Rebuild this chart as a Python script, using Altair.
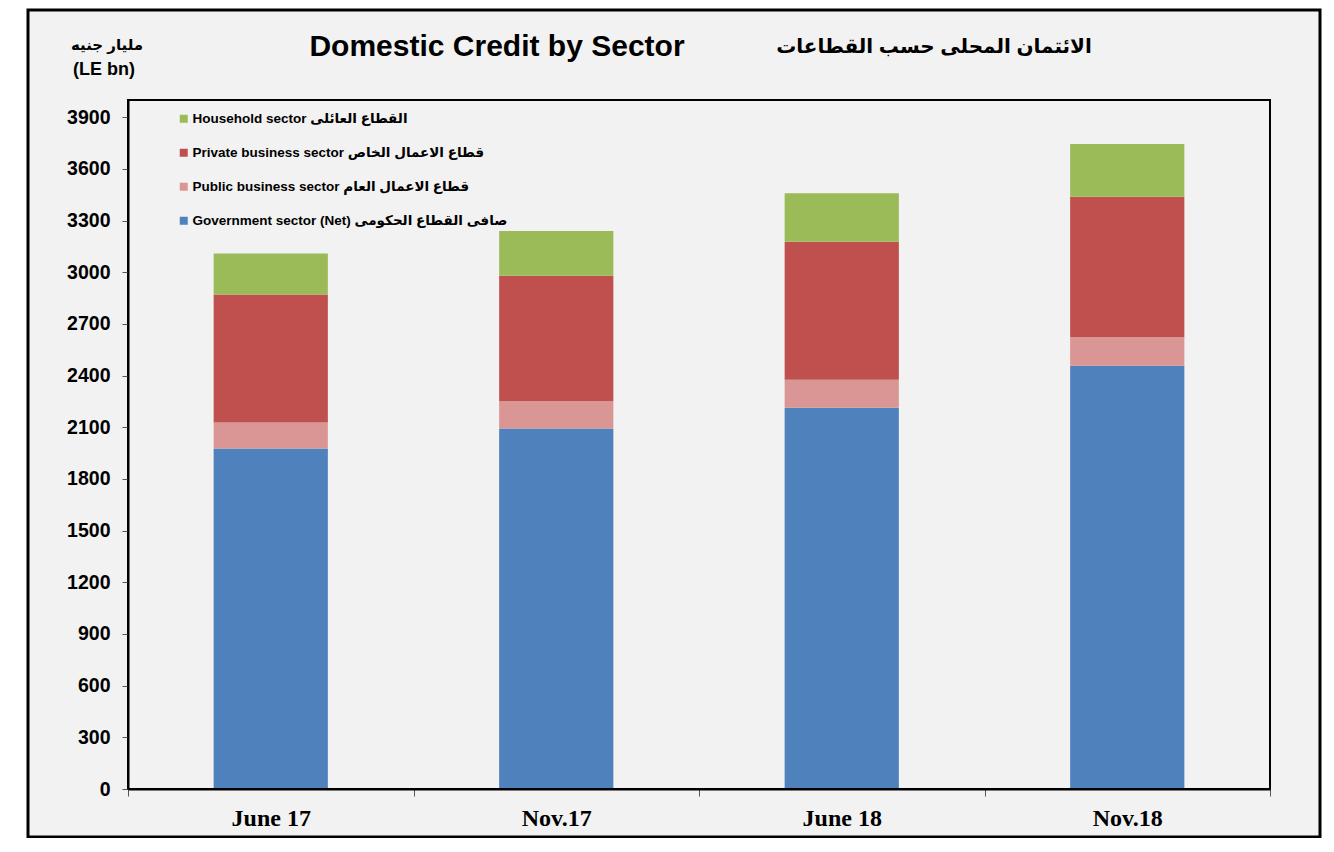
import altair as alt
import pandas as pd

periods = ["June 17", "Nov.17", "June 18", "Nov.18"]
government = [1977, 2093, 2213, 2457]
public_business = [151, 159, 163, 166]
private_business = [743, 727, 801, 815]
household = [238, 260, 282, 307]

sector_names = [
    "Government sector (Net)  صافى القطاع الحكومى",
    "Public business sector  قطاع الاعمال العام",
    "Private business sector  قطاع الاعمال الخاص",
    "Household sector  القطاع العائلى",
]
sector_colors = ["#4f81bd", "#d99694", "#c0504d", "#9bbb59"]
y_ticks = list(range(0, 4000, 300))

rows = []
for s_i, (name, vals) in enumerate(zip(sector_names, [government, public_business, private_business, household])):
    for p, v in zip(periods, vals):
        rows.append({"period": p, "sector": name, "value": v, "ord": s_i})
df = pd.DataFrame(rows)

W, H = 1142, 689
SANS = "Liberation Sans, DejaVu Sans, Arial"

frame = alt.Chart(pd.DataFrame({"a": [0]})).mark_rect(
    fill="#f2f2f2", stroke="black", strokeWidth=3
).encode(
    x=alt.value(-100), x2=alt.value(1192), y=alt.value(-90), y2=alt.value(737)
)

legend_domain = list(reversed(sector_names))
legend_range = list(reversed(sector_colors))

bars = alt.Chart(df).mark_bar(width=alt.RelativeBandSize(0.4)).encode(
    x=alt.X("period:N", sort=periods,
            scale=alt.Scale(paddingInner=0, paddingOuter=0),
            axis=alt.Axis(title=None, labelAngle=0, tickBand="extent",
                          labelFont="Liberation Serif", labelFontSize=24,
                          labelFontWeight="bold", labelColor="black",
                          labelPadding=10, tickSize=7, tickColor="#555555",
                          domainColor="black", domainWidth=2, zindex=1)),
    y=alt.Y("value:Q", stack="zero",
            scale=alt.Scale(domain=[0, 4000], nice=False),
            axis=alt.Axis(title=None, values=y_ticks, grid=False, format="d",
                          labelFont=SANS, labelFontSize=19.5, labelFontWeight="bold",
                          labelColor="black", labelPadding=12, tickSize=6,
                          tickColor="#555555", domainColor="black",
                          domainWidth=2, zindex=1)),
    color=alt.Color("sector:N",
                    scale=alt.Scale(domain=legend_domain, range=legend_range),
                    legend=alt.Legend(title=None, orient="none", legendX=49,
                                      legendY=12, symbolType="square",
                                      symbolSize=64, symbolStrokeWidth=0,
                                      labelFont=SANS, labelFontSize=13.5,
                                      labelFontWeight="bold", labelColor="black",
                                      labelLimit=500, labelOffset=2,
                                      rowPadding=19, padding=0)),
    order=alt.Order("ord:Q", sort="ascending"),
)

border = alt.Chart(pd.DataFrame({"a": [0]})).mark_rect(
    fillOpacity=0, stroke="black", strokeWidth=2
).encode(x=alt.value(0), x2=alt.value(W), y=alt.value(0), y2=alt.value(H))

title_en = alt.Chart(pd.DataFrame({"t": ["Domestic Credit by Sector"]})).mark_text(
    font=SANS, fontSize=30, fontWeight="bold", color="black", align="center", baseline="middle"
).encode(text="t:N", x=alt.value(369), y=alt.value(-53))

title_ar = alt.Chart(pd.DataFrame({"t": ["الائتمان المحلى حسب القطاعات"]})).mark_text(
    font=SANS, fontSize=20, fontWeight="bold", color="black", align="center", baseline="middle"
).encode(text="t:N", x=alt.value(806), y=alt.value(-53))

unit_ar = alt.Chart(pd.DataFrame({"t": ["مليار جنيه"]})).mark_text(
    font=SANS, fontSize=15, fontWeight="bold", color="black", align="center", baseline="middle"
).encode(text="t:N", x=alt.value(-21), y=alt.value(-55))

unit_en = alt.Chart(pd.DataFrame({"t": ["(LE bn)"]})).mark_text(
    font=SANS, fontSize=18, fontWeight="bold", color="black", align="center", baseline="middle"
).encode(text="t:N", x=alt.value(-24), y=alt.value(-30))

chart = alt.layer(frame, bars, border, title_en, title_ar, unit_ar, unit_en).properties(
    width=W, height=H,
    autosize=alt.AutoSizeParams(type="none"),
    padding={"left": 120, "top": 92, "right": 54, "bottom": 49},
    background="white",
).configure_view(stroke=None)

chart.save("out.html", embed_options={"renderer": "svg", "actions": False})
